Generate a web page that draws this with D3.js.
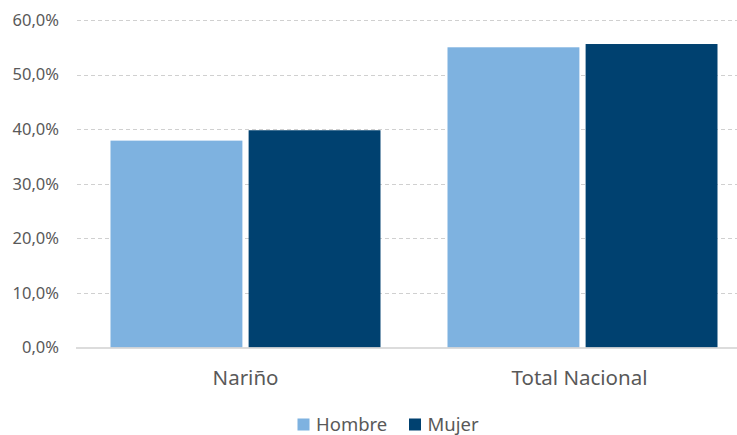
<!DOCTYPE html>
<html><head><meta charset="utf-8">
<script src="https://cdn.jsdelivr.net/npm/d3@7"></script>
<style>body{margin:0;background:#fff}svg{display:block}</style>
</head><body>
<svg id="c" width="737" height="435"></svg>
<script>
const categories = ["Nariño", "Total Nacional"];
const seriesNames = ["Hombre", "Mujer"];
const hombre = [37.9, 55.0];
const mujer = [39.8, 55.6];
const yTicks = [0, 10, 20, 30, 40, 50, 60];
const colors = ["#7EB2E0", "#004170"];

const svg = d3.select("#c");
const y = d3.scaleLinear().domain([0, 60]).range([347.5, 20]);
const x0 = d3.scaleBand().domain(categories).range([77, 751]).paddingInner(0).paddingOuter(0);
const x1 = d3.scaleBand().domain(seriesNames).range([33.5, x0.bandwidth() - 33.5]).paddingInner(0.045);

const fmt = v => d3.format(".1f")(v).replace(".", ",") + "%";

// gridlines
svg.append("g").selectAll("line").data(yTicks.filter(t => t > 0)).join("line")
  .attr("x1", 77).attr("x2", 737)
  .attr("y1", d => Math.round(y(d)) + 0.5).attr("y2", d => Math.round(y(d)) + 0.5)
  .attr("stroke", "#d0d0d0").attr("stroke-width", 1).attr("stroke-dasharray", "4,3");

// y axis labels
const yAxis = d3.axisLeft(y).tickValues(yTicks).tickFormat(fmt).tickSize(0).tickPadding(0);
const ya = svg.append("g").attr("transform", "translate(59,0)").call(yAxis);
ya.select(".domain").remove();
ya.selectAll("text").attr("font-family", "Noto Sans").attr("font-size", "16.5px").attr("fill", "#595959");

// bars
const data = categories.map((c, i) => ({cat: c, vals: [hombre[i], mujer[i]]}));
const g = svg.append("g").selectAll("g").data(data).join("g")
  .attr("transform", d => `translate(${x0(d.cat)},0)`);
g.selectAll("rect").data(d => d.vals.map((v, j) => ({s: seriesNames[j], v, j}))).join("rect")
  .attr("x", d => x1(d.s)).attr("width", x1.bandwidth())
  .attr("y", d => y(d.v)).attr("height", d => y(0) - y(d.v))
  .attr("fill", d => colors[d.j]);

// zero line
svg.append("line").attr("x1", 76).attr("x2", 737).attr("y1", 348).attr("y2", 348)
  .attr("stroke", "#d0d0d0").attr("stroke-width", 1.5);

// x axis labels
const xAxis = d3.axisBottom(x0).tickSize(0).tickPadding(0);
const xa = svg.append("g").attr("transform", "translate(0,370)").call(xAxis);
xa.select(".domain").remove();
xa.selectAll("text").attr("font-family", "Noto Sans").attr("font-size", "20.5px").attr("fill", "#595959")
  .attr("dy", "0").attr("y", 15)
  .attr("dx", (d, i) => i === 1 ? -3 : 0);

// legend
const legX = [297.5, 409];
const leg = svg.append("g").selectAll("g").data(seriesNames).join("g")
  .attr("transform", (d, i) => `translate(${legX[i]},418.5)`);
leg.append("rect").attr("width", 12).attr("height", 12).attr("fill", (d, i) => colors[i]);
leg.append("text").attr("x", 18.5).attr("y", 12).text(d => d)
  .attr("font-family", "Noto Sans").attr("font-size", "18.5px").attr("fill", "#595959");
</script>
</body></html>
